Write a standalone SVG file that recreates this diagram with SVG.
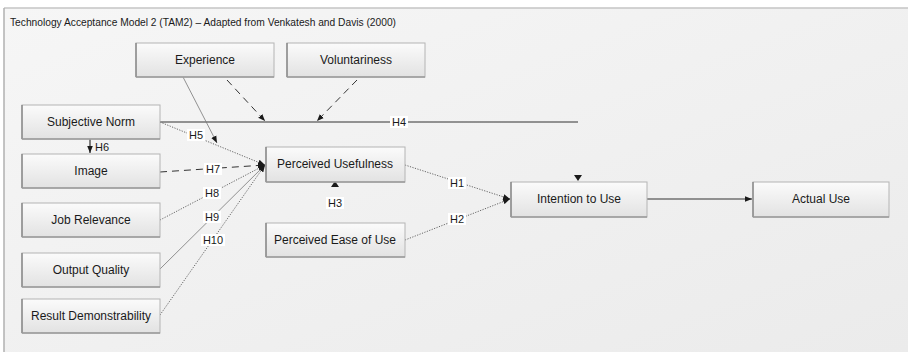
<svg xmlns="http://www.w3.org/2000/svg" width="908" height="352" viewBox="0 0 908 352">
  <defs>
    <linearGradient id="bg" x1="0" y1="0" x2="1" y2="1">
      <stop offset="0" stop-color="#f6f6f6"/>
      <stop offset="1" stop-color="#ebebeb"/>
    </linearGradient>
    <linearGradient id="box" x1="0" y1="0" x2="0" y2="1">
      <stop offset="0" stop-color="#fbfbfb"/>
      <stop offset="1" stop-color="#e2e2e2"/>
    </linearGradient>
    <marker id="ah" viewBox="0 0 10 10" refX="10" refY="5" markerWidth="7" markerHeight="7" markerUnits="userSpaceOnUse" orient="auto">
      <path d="M0,1 L10,5 L0,9 z" fill="#1a1a1a"/>
    </marker>
    <style>
      .node rect { fill: url(#box); stroke: #b4b4b4; stroke-width: 1; }
      .node .edge { stroke: #7a7a7a; stroke-width: 1.2; }
      .node .shadow { stroke: #9a9a9a; stroke-width: 1.5; }
      .lbl { font-family: "Liberation Sans", Arial, sans-serif; font-size: 12px; fill: #1a1a1a; text-anchor: middle; dominant-baseline: central; }
      .h { font-family: "Liberation Sans", Arial, sans-serif; font-size: 11px; fill: #1a1a1a; text-anchor: middle; dominant-baseline: central; }
      .hb { fill: #ffffff; }
      .solid { stroke: #333; stroke-width: 1.2; fill: none; }
      .thin { stroke: #777; stroke-width: 0.8; fill: none; }
      .dot { stroke: #555; stroke-width: 0.9; stroke-dasharray: 1.2 1.4; fill: none; }
      .dash { stroke: #333; stroke-width: 1; stroke-dasharray: 7 5; fill: none; }
    </style>
  </defs>

  <rect x="0" y="0" width="908" height="352" fill="#ffffff"/>
  <rect x="4" y="8" width="904" height="344" fill="url(#bg)"/>
  <line x1="4" y1="8" x2="908" y2="8" stroke="#c4c4c4" stroke-width="1.5"/>
  <line x1="4" y1="8" x2="4" y2="352" stroke="#b0b0b0" stroke-width="1.5"/>

  <text x="10" y="22" font-family="&quot;Liberation Sans&quot;, Arial, sans-serif" font-size="11.5" fill="#1a1a1a" textLength="386" lengthAdjust="spacingAndGlyphs" dominant-baseline="central">Technology Acceptance Model 2 (TAM2) – Adapted from Venkatesh and Davis (2000)</text>

  <g id="connectors">
    <line class="solid" x1="160" y1="122" x2="578" y2="122"/>
    <polygon points="574,175 582,175 578,181" fill="#1a1a1a"/>
    <line class="dash" x1="227" y1="80" x2="265" y2="121" marker-end="url(#ah)"/>
    <line class="dash" x1="357" y1="80" x2="317" y2="121" marker-end="url(#ah)"/>
    <line class="thin" x1="183" y1="77" x2="217" y2="143" marker-end="url(#ah)"/>
    <line class="solid" x1="90" y1="139" x2="90" y2="153" marker-end="url(#ah)"/>
    <line class="dot" x1="160" y1="122" x2="265" y2="165" marker-end="url(#ah)"/>
    <line class="dash" x1="160" y1="172" x2="265" y2="165" marker-end="url(#ah)"/>
    <line class="dot" x1="160" y1="220" x2="265" y2="165" marker-end="url(#ah)"/>
    <line class="thin" x1="160" y1="269" x2="265" y2="165" marker-end="url(#ah)"/>
    <line class="dot" x1="160" y1="315" x2="265" y2="165" marker-end="url(#ah)"/>
    <polygon points="331,187 339,187 335,181" fill="#1a1a1a"/>
    <line class="dot" x1="405" y1="165" x2="510" y2="199" marker-end="url(#ah)"/>
    <line class="dot" x1="405" y1="240" x2="510" y2="199" marker-end="url(#ah)"/>
    <line class="solid" x1="647" y1="199" x2="752" y2="199" marker-end="url(#ah)"/>

    <rect class="hb" x="390" y="116" width="18" height="12"/>
    <text class="h" x="399" y="122">H4</text>
    <rect class="hb" x="187" y="129" width="18" height="12"/>
    <text class="h" x="196" y="135">H5</text>
    <text class="h" x="102" y="147">H6</text>
    <rect class="hb" x="204" y="163" width="18" height="12"/>
    <text class="h" x="213" y="169">H7</text>
    <rect class="hb" x="203" y="187" width="18" height="12"/>
    <text class="h" x="212" y="193">H8</text>
    <rect class="hb" x="203" y="211" width="18" height="12"/>
    <text class="h" x="212" y="217">H9</text>
    <rect class="hb" x="201" y="234" width="24" height="12"/>
    <text class="h" x="213" y="240">H10</text>
    <rect class="hb" x="326" y="197" width="18" height="12"/>
    <text class="h" x="335" y="203">H3</text>
    <rect class="hb" x="448" y="177" width="18" height="12"/>
    <text class="h" x="457" y="183">H1</text>
    <rect class="hb" x="448" y="213" width="18" height="12"/>
    <text class="h" x="457" y="219">H2</text>
  </g>

  <g id="experience" class="node">
    <rect x="136" y="43" width="138" height="34"/>
    <line class="edge" x1="136" y1="43" x2="136" y2="77"/>
    <line class="shadow" x1="136" y1="77" x2="274" y2="77"/>
    <text class="lbl" x="205" y="60">Experience</text>
  </g>
  <g id="voluntariness" class="node">
    <rect x="287" y="43" width="138" height="34"/>
    <line class="edge" x1="287" y1="43" x2="287" y2="77"/>
    <line class="shadow" x1="287" y1="77" x2="425" y2="77"/>
    <text class="lbl" x="356" y="60">Voluntariness</text>
  </g>
  <g id="subjective-norm" class="node">
    <rect x="22" y="105" width="138" height="34"/>
    <line class="edge" x1="22" y1="105" x2="22" y2="139"/>
    <line class="shadow" x1="22" y1="139" x2="160" y2="139"/>
    <text class="lbl" x="91" y="122">Subjective Norm</text>
  </g>
  <g id="image" class="node">
    <rect x="22" y="154" width="138" height="34"/>
    <line class="edge" x1="22" y1="154" x2="22" y2="188"/>
    <line class="shadow" x1="22" y1="188" x2="160" y2="188"/>
    <text class="lbl" x="91" y="171">Image</text>
  </g>
  <g id="job-relevance" class="node">
    <rect x="22" y="203" width="138" height="34"/>
    <line class="edge" x1="22" y1="203" x2="22" y2="237"/>
    <line class="shadow" x1="22" y1="237" x2="160" y2="237"/>
    <text class="lbl" x="91" y="220">Job Relevance</text>
  </g>
  <g id="output-quality" class="node">
    <rect x="22" y="253" width="138" height="34"/>
    <line class="edge" x1="22" y1="253" x2="22" y2="287"/>
    <line class="shadow" x1="22" y1="287" x2="160" y2="287"/>
    <text class="lbl" x="91" y="270">Output Quality</text>
  </g>
  <g id="result-demonstrability" class="node">
    <rect x="22" y="299" width="138" height="34"/>
    <line class="edge" x1="22" y1="299" x2="22" y2="333"/>
    <line class="shadow" x1="22" y1="333" x2="160" y2="333"/>
    <text class="lbl" x="91" y="316">Result Demonstrability</text>
  </g>
  <g id="perceived-usefulness" class="node">
    <rect x="266" y="147" width="139" height="35"/>
    <line class="edge" x1="266" y1="147" x2="266" y2="182"/>
    <line class="shadow" x1="266" y1="182" x2="405" y2="182"/>
    <text class="lbl" x="335" y="164">Perceived Usefulness</text>
  </g>
  <g id="perceived-ease-of-use" class="node">
    <rect x="266" y="223" width="139" height="34"/>
    <line class="edge" x1="266" y1="223" x2="266" y2="257"/>
    <line class="shadow" x1="266" y1="257" x2="405" y2="257"/>
    <text class="lbl" x="335" y="240">Perceived Ease of Use</text>
  </g>
  <g id="intention-to-use" class="node">
    <rect x="511" y="182" width="136" height="35"/>
    <line class="edge" x1="511" y1="182" x2="511" y2="217"/>
    <line class="shadow" x1="511" y1="217" x2="647" y2="217"/>
    <text class="lbl" x="579" y="199">Intention to Use</text>
  </g>
  <g id="actual-use" class="node">
    <rect x="753" y="182" width="136" height="35"/>
    <line class="edge" x1="753" y1="182" x2="753" y2="217"/>
    <line class="shadow" x1="753" y1="217" x2="889" y2="217"/>
    <text class="lbl" x="821" y="199">Actual Use</text>
  </g>
</svg>
